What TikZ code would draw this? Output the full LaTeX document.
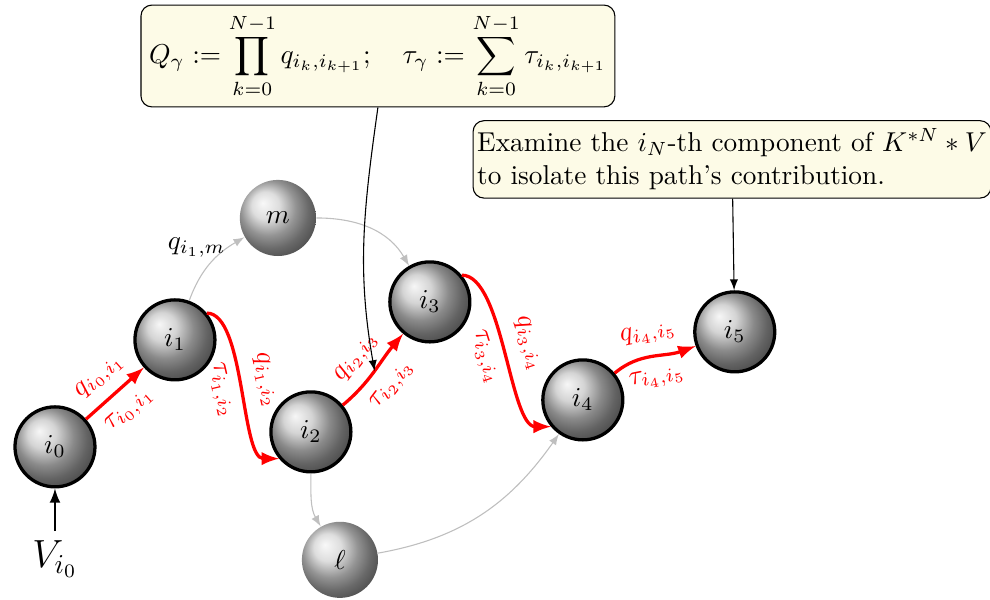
\documentclass[tikz,border=0pt]{standalone}
\usepackage{amsmath}
\usepackage{amssymb}
\usepackage{tikz}
\usepackage{xcolor}
\usetikzlibrary{shapes,arrows,positioning,calc}

\definecolor{notefill}{RGB}{253,251,231}

\begin{document}
\begin{tikzpicture}[
    state/.style={circle, draw=black, very thick, ball color=gray!45, minimum size=1.03cm, inner sep=0pt},
    side/.style={circle, ball color=gray!35, minimum size=0.98cm, inner sep=0pt},
    note/.style={rectangle, draw, rounded corners=4pt, fill=notefill, align=left, inner sep=3pt},
    walk/.style={->, >=latex, very thick, red},
    aside/.style={->, >=latex, gray!50},
    lab/.style={sloped, text=red, inner sep=4pt}
]
    \useasboundingbox (0,0) rectangle (12.75,7.725);

    % states along the path
    \node[state] (i0) at (0.708,1.970) {$i_0$};
    \node[state] (i1) at (2.253,3.348) {$i_1$};
    \node[state] (i2) at (4.004,2.163) {$i_2$};
    \node[state] (i3) at (5.536,3.837) {$i_3$};
    \node[state] (i4) at (7.506,2.575) {$i_4$};
    \node[state] (i5) at (9.463,3.451) {$i_5$};
    \node[side] (m) at (3.579,4.918) {$m$};
    \node[side] (l) at (4.378,0.515) {$\ell$};

    \node[below=0.55cm of i0, font=\Large] (v0) {$V_{i_0}$};

    % notes
    \node[note] (prodbox) at (4.867,7.004) {$\displaystyle Q_\gamma := \prod_{k=0}^{N-1} q_{i_k,i_{k+1}};\quad \tau_\gamma := \sum_{k=0}^{N-1} \tau_{i_k,i_{k+1}}$};
    \node[note, inner xsep=1.5pt, above=1.18cm of i5, xshift=-1pt] (hintbox) {Examine the $i_N$-th component of $K^{*N}*V$\\to isolate this path's contribution.};

    % the path
    \draw[walk] (i0) -- node[lab, above] {$q_{i_0,i_1}$} node[lab, below] {$\tau_{i_0,i_1}$} (i1);
    \draw[walk] (i1.40) to[out=0, in=180, looseness=0.6] node[lab, above] {$q_{i_1,i_2}$} node[lab, below] {$\tau_{i_1,i_2}$} (i2.220);
    \draw[walk] (i2) to[out=40, in=230] node[lab, above] {$q_{i_2,i_3}$} node[lab, below] {$\tau_{i_2,i_3}$} coordinate[pos=0.5] (g23) (i3);
    \draw[walk] (i3.40) to[out=0, in=180, looseness=0.6] node[lab, above] {$q_{i_3,i_4}$} node[lab, below] {$\tau_{i_3,i_4}$} (i4.220);
    \draw[walk] (i4) to[out=40, in=200] node[lab, above] {$q_{i_4,i_5}$} node[lab, below] {$\tau_{i_4,i_5}$} (i5);

    % other paths
    \draw[aside] (i1) to[out=70, in=210] node[pos=0.8, left, inner sep=1pt, text=black] {$q_{i_1,m}$} (m);
    \draw[aside] (m) to[out=0, in=120] (i3);
    \draw[aside] (i2) to[out=270, in=120] (l);
    \draw[aside] (l) to[out=10, in=235] (i4);

    \draw[thick, ->, >=latex] (v0) -- (i0);
    \draw[->, >=latex] (prodbox.south) to[out=262, in=100] (g23);
    \draw[->, >=latex] (hintbox) -- (i5);
\end{tikzpicture}
\end{document}
